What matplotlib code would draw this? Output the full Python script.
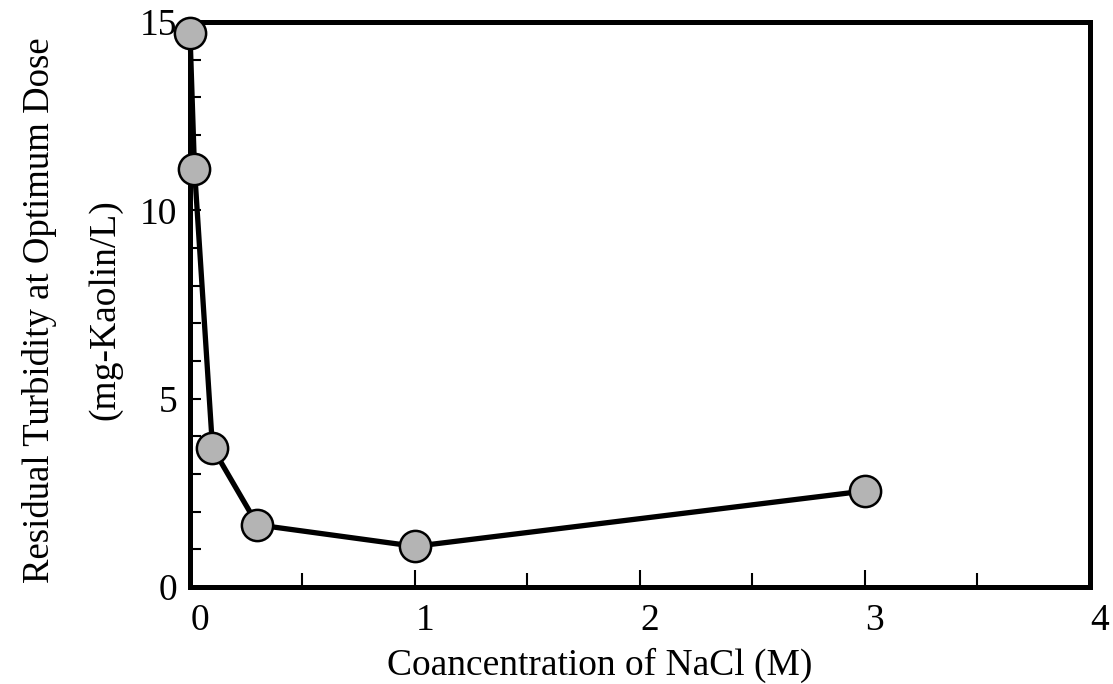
import matplotlib
matplotlib.use("Agg")
import matplotlib.pyplot as plt
from matplotlib.ticker import MultipleLocator
from matplotlib.transforms import ScaledTranslation

# NaCl concentration (M) vs residual turbidity (mg-Kaolin/L)
nacl_conc = [0.0, 0.02, 0.1, 0.3, 1.0, 3.0]
turbidity = [14.7, 11.1, 3.7, 1.65, 1.08, 2.55]

plt.rcParams["font.family"] = ["Liberation Serif", "DejaVu Serif"]

fig = plt.figure(figsize=(11.13, 6.84), dpi=100)
ax = fig.add_axes([0.1707, 0.1418, 0.8086, 0.826])

ax.plot(nacl_conc, turbidity, color="black", lw=3.8, marker="o", ms=22.5,
        mfc="#b4b4b4", mec="black", mew=1.8, clip_on=False, zorder=5)

ax.set_xlim(0, 4)
ax.set_ylim(0, 15)
ax.xaxis.set_major_locator(MultipleLocator(1))
ax.xaxis.set_minor_locator(MultipleLocator(0.5))
ax.yaxis.set_major_locator(MultipleLocator(5))
ax.yaxis.set_minor_locator(MultipleLocator(1))
ax.tick_params(which="both", direction="in", width=1.5, labelsize=27)
ax.tick_params(axis="x", which="major", length=12, pad=12)
ax.tick_params(axis="x", which="minor", length=10)
ax.tick_params(axis="y", which="both", length=8, pad=9)
for s in ax.spines.values():
    s.set_linewidth(3.6)

# tick labels in the original sit a little right of their ticks
shift = ScaledTranslation(0.1, 0, fig.dpi_scale_trans)
for lab in ax.get_xticklabels():
    lab.set_transform(lab.get_transform() + shift)

fig.text(600 / 1113, 1 - 665 / 684, "Coancentration of NaCl (M)",
         ha="center", va="center", fontsize=27)
fig.text(40 / 1113, 1 - 310 / 684, "Residual Turbidity at Optimum Dose",
         ha="center", va="center", rotation=90, fontsize=26.5)
fig.text(105 / 1113, 1 - 310 / 684, "(mg-Kaolin/L)",
         ha="center", va="center", rotation=90, fontsize=27)

fig.savefig("out.png", dpi=100)
